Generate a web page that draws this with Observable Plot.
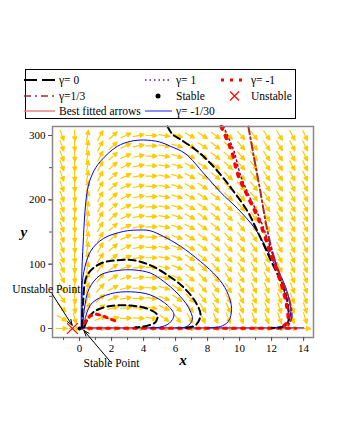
<!DOCTYPE html>
<html><head><meta charset="utf-8">
<script src="https://cdn.jsdelivr.net/npm/d3@7"></script>
<script src="https://cdn.jsdelivr.net/npm/@observablehq/plot@0.6"></script>
<style>
body{margin:0;background:#fff;}
#wrap{position:relative;width:340px;height:440px;overflow:hidden;}
#chart{position:absolute;left:0;top:0;}
#legend{position:absolute;left:0;top:0;}
</style></head><body>
<div id="wrap"><div id="chart"></div><svg id="legend" width="340" height="130"></svg></div>
<script>
// ---- grid of direction-field arrows (screen angle in degrees, 0 = right, + = up) ----
const fieldX = [-1.1,-0.3,0.5,1.3,2.1,2.9,3.7,4.5,5.3,6.1,6.9,7.7,8.5,9.3,10.1,10.9,11.7,12.5,13.3,14.1];
const fieldY = [300,284,268,253,237,221,205,189,174,158,142,126,110,95,79,63,47,32,16,0];
const fieldAngle = [
 [-70,-88,80,62,42,25,12,0,-10,-18,-27,-33,-38,-43,-48,-52,-56,-59,-62,-64],
 [-70,-88,80,62,42,25,12,0,-10,-18,-27,-33,-38,-43,-48,-52,-56,-59,-62,-64],
 [-70,-88,80,62,42,25,12,0,-10,-18,-27,-33,-38,-43,-48,-52,-56,-59,-62,-64],
 [-70,-88,80,62,42,25,12,0,-10,-18,-27,-33,-38,-43,-48,-52,-56,-59,-62,-64],
 [-70,-88,80,62,42,25,12,0,-10,-18,-27,-33,-38,-43,-48,-52,-56,-59,-62,-64],
 [-70,-88,80,62,42,25,12,0,-10,-18,-27,-33,-38,-43,-48,-52,-56,-59,-62,-64],
 [-70,-88,80,62,42,25,12,0,-10,-18,-27,-33,-38,-43,-48,-52,-56,-59,-62,-64],
 [-70,-88,80,62,42,25,12,0,-10,-18,-28,-34,-39,-44,-49,-53,-57,-60,-62,-64],
 [-70,-88,80,62,42,25,12,0,-10,-19,-28,-35,-40,-45,-50,-54,-57,-60,-63,-65],
 [-70,-88,80,61,41,24,11,0,-10,-19,-29,-35,-41,-46,-51,-55,-58,-61,-63,-65],
 [-70,-88,80,61,41,24,11,0,-10,-20,-30,-36,-42,-47,-52,-56,-59,-62,-64,-66],
 [-70,-88,80,60,40,24,11,0,-10,-20,-30,-36,-42,-47,-52,-56,-59,-62,-64,-66],
 [-68,-88,80,58,38,22,10,0,-11,-22,-32,-39,-45,-50,-55,-58,-61,-63,-65,-67],
 [-66,-88,78,56,35,20,8,-1,-12,-24,-35,-42,-48,-53,-57,-60,-63,-65,-67,-68],
 [-64,-87,77,52,32,17,6,-2,-14,-26,-38,-45,-51,-55,-59,-62,-64,-66,-68,-69],
 [-60,-86,75,48,28,14,4,-4,-16,-30,-42,-49,-54,-58,-61,-64,-66,-68,-69,-70],
 [-55,-85,72,42,22,10,2,-6,-20,-35,-47,-53,-58,-61,-64,-66,-68,-69,-70,-71],
 [-45,-82,65,35,16,6,0,-8,-25,-42,-53,-58,-62,-65,-67,-68,-70,-71,-72,-72],
 [-30,-75,50,22,8,2,-3,-12,-35,-52,-60,-64,-66,-68,-69,-70,-71,-72,-72,-73],
 [0,0,0,0,0,0,0,0,0,0,0,0,0,0,0,0,0,0,0,0]
];

// ---- trajectories [x, y] ----
const blueOuter = [[0.1,0],[0.12,60],[0.2,120],[0.48,213],[0.8,240],[1.31,260],[2.35,283],[3.2,291],[4.0,293],[5.0,290],[5.7,283],[6.6,272],[7.8,240],[8.8,212],[9.85,187],[11.0,154],[12.1,104],[12.7,75],[13.0,55],[13.2,26],[13.0,8],[12.6,3],[12.0,1]];
const blue2 = [[0.15,0],[0.17,40],[0.2,78],[0.69,120],[1.5,140],[2.77,151],[3.6,153],[4.4,152],[5.25,143],[6.3,128],[7.56,104],[8.6,80],[9.2,58],[9.5,31],[9.3,11],[8.8,3],[8.0,1]];
const blue3 = [[0.2,0],[0.3,30],[0.6,62],[1.3,83],[2.35,90],[3.4,91],[4.44,86],[5.27,73],[6.1,55],[6.8,33],[7.05,14],[6.7,3],[6.0,1]];
const blue4 = [[0.25,0],[0.4,20],[0.8,40],[1.94,54],[3.2,57],[4.44,52],[5.5,36],[5.9,21],[5.6,8],[5.0,2],[4.4,1]];
const blueBase = [[0,1],[14,1]];
const dashBig = [[5.5,314],[5.8,302],[6.3,294],[7.35,276],[8.4,251],[9.45,219],[10.5,182],[11.1,152],[11.9,109],[12.5,77],[12.8,60],[13.05,31],[13.0,8],[12.6,2],[12.0,1]];
const dash2 = [[0.15,2],[0.22,40],[0.48,83],[1.31,101],[2.35,106],[3.4,106],[4.44,98],[5.5,83],[6.5,64],[7.25,41],[7.56,21],[7.25,5],[6.6,1]];
const dash3 = [[0.3,2],[0.5,14],[0.9,26],[1.73,34],[3.0,36],[4.2,31],[4.86,21],[4.75,10],[4.2,4],[3.5,2]];
const redBig = [[8.85,314],[9.2,294],[9.5,276],[9.9,239],[10.5,206],[11.2,169],[11.9,120],[12.56,73],[12.95,35],[13.0,10],[12.6,2]];
const purpleBig = [[9.0,314],[9.35,294],[9.65,276],[10.05,239],[10.6,206],[11.3,169],[12.0,120],[12.62,73],[13.0,35],[13.05,10],[12.6,2]];
const brownBig = [[10.55,314],[10.9,266],[11.3,213],[11.7,157],[12.1,115],[12.6,78],[13.1,45],[13.25,17],[13.0,3]];
const redSmall = [[0.3,8],[0.6,18],[1.0,22],[1.5,19],[2.0,14],[2.2,12]];
const redBase = [[0,0.5],[13.5,0.5]];
const fitBase = [[0,0],[14,0]];

// ---- points and annotations ----
const unstablePts = [{x:-0.45, y:0}];
const stablePts = [{x:0, y:0}];
const notes = [
  {label:"Unstable Point", tx:-4.2, ty:61, x1:-1.72, y1:54, x2:-0.46, y2:5},
  {label:"Stable Point", tx:0.25, ty:-54, x1:1.94, y1:-52, x2:0.27, y2:-3}
];
const xTicks = [0,2,4,6,8,10,12,14];
const yTicks = [0,100,200,300];

const field = [];
fieldAngle.forEach((row, k) => row.forEach((a, i) => field.push({x: fieldX[i], y: fieldY[k], r: 90 - a})));

const arrowShape = {
  draw(ctx, l) {
    const h = 4.2, w = 2;
    ctx.moveTo(0, l / 2);
    ctx.lineTo(0, -l / 2 + h * 0.6);
    ctx.moveTo(-w, -l / 2 + h);
    ctx.lineTo(0, -l / 2);
    ctx.lineTo(w, -l / 2 + h);
    ctx.closePath();
  }
};
const gold = "#FFCC00";
const ln = (data, o) => Plot.line(data, {x: d => d[0], y: d => d[1], curve: "catmull-rom", ...o});

const chart = Plot.plot({
  width: 340, height: 440,
  marginLeft: 52, marginRight: 27, marginTop: 126, marginBottom: 103,
  x: {domain: [-1.69, 14.62]},
  y: {domain: [-14, 314]},
  style: {fontFamily: "'Liberation Serif', serif", fontSize: "11px", background: "transparent", color: "#000"},
  marks: [
    Plot.vector(field, {x: "x", y: "y", rotate: "r", length: 11, anchor: "start", shape: arrowShape, stroke: gold, fill: gold, strokeWidth: 1.2}),
    ln(fitBase, {stroke: "#F08080", strokeWidth: 1.5}),
    ln(blueBase, {stroke: "#6666CC", strokeWidth: 1.5}),
    ln(redBase, {stroke: "#FF0000", strokeWidth: 3, strokeDasharray: "3,6"}),
    ln(blueOuter, {stroke: "#0000FF", strokeWidth: 1}),
    ln(blue2, {stroke: "#0000FF", strokeWidth: 1}),
    ln(blue3, {stroke: "#0000FF", strokeWidth: 1}),
    ln(blue4, {stroke: "#0000FF", strokeWidth: 1}),
    ln(dashBig, {stroke: "#000", strokeWidth: 2, strokeDasharray: "7,4"}),
    ln(dash2, {stroke: "#000", strokeWidth: 2, strokeDasharray: "7,4"}),
    ln(dash3, {stroke: "#000", strokeWidth: 2, strokeDasharray: "7,4"}),
    ln(brownBig, {stroke: "#A52A2A", strokeWidth: 2, strokeDasharray: "8,3,2,3"}),
    ln(purpleBig, {stroke: "#800080", strokeWidth: 1.5, strokeDasharray: "1.5,3"}),
    ln(redBig, {stroke: "#FF0000", strokeWidth: 3.5, strokeDasharray: "3,7"}),
    ln(redSmall, {stroke: "#FF0000", strokeWidth: 3, strokeDasharray: "3,5"}),
    Plot.dot(stablePts, {x: "x", y: "y", r: 2, fill: "#000"}),
    Plot.dot(unstablePts, {x: "x", y: "y", r: 5, symbol: "times", stroke: "#FF0000", strokeWidth: 1.2}),
    Plot.frame({stroke: "#888", strokeWidth: 1.5}),
    Plot.axisX(d3.range(-1, 15), {tickSize: 3, tickFormat: () => "", stroke: "#555"}),
    Plot.axisX(xTicks, {tickSize: 4, tickPadding: 3, stroke: "#555", fontSize: 11}),
    Plot.axisY(d3.range(0, 301, 50), {tickSize: 3, tickFormat: () => "", stroke: "#555"}),
    Plot.axisY(yTicks, {tickSize: 4, tickPadding: 3, stroke: "#555", fontSize: 11}),
    Plot.arrow(notes, {x1: "x1", y1: "y1", x2: "x2", y2: "y2", stroke: "#000", strokeWidth: 1, headLength: 9, headAngle: 40}),
    Plot.text(notes, {x: "tx", y: "ty", text: "label", textAnchor: "start", fontSize: 11.5}),
    Plot.text(["x"], {frameAnchor: "bottom", dy: 27, fontSize: 15, fontWeight: "bold", fontStyle: "italic"}),
    Plot.text(["y"], {frameAnchor: "left", dx: -32, fontSize: 15, fontWeight: "bold", fontStyle: "italic"})
  ]
});
document.getElementById("chart").append(chart);

// ---- legend ----
const legendItems = [
  {label: "γ= 0", col: 0, row: 0, kind: "dash"},
  {label: "γ= 1", col: 1, row: 0, kind: "purple"},
  {label: "γ= -1", col: 2, row: 0, kind: "redsq"},
  {label: "γ=1/3", col: 0, row: 1, kind: "dashdot"},
  {label: "Stable", col: 1, row: 1, kind: "dot"},
  {label: "Unstable", col: 2, row: 1, kind: "cross"},
  {label: "Best fitted arrows", col: 0, row: 2, kind: "salmon"},
  {label: "γ= -1/30", col: 1, row: 2, kind: "blue"}
];
const lg = d3.select("#legend");
lg.append("rect").attr("x", 25.5).attr("y", 69.5).attr("width", 270).attr("height", 49).attr("fill", "none").attr("stroke", "#000");
const colSw = [[24, 55, 59], [145, 172, 176], [221, 247, 251]];
const rowY = [80, 96, 111];
legendItems.forEach(d => {
  const [a, b, t] = colSw[d.col];
  const y = rowY[d.row];
  const line = (st) => { const l = lg.append("line").attr("x1", a).attr("x2", b).attr("y1", y).attr("y2", y); Object.entries(st).forEach(([k, v]) => l.attr(k, v)); };
  if (d.kind === "dash") line({stroke: "#000", "stroke-width": 2, "stroke-dasharray": "13,5"});
  if (d.kind === "purple") line({stroke: "#800080", "stroke-width": 1.5, "stroke-dasharray": "1.5,3"});
  if (d.kind === "redsq") line({stroke: "#FF0000", "stroke-width": 3, "stroke-dasharray": "3,6"});
  if (d.kind === "dashdot") line({stroke: "#A52A2A", "stroke-width": 1.5, "stroke-dasharray": "7,4,2,4"});
  if (d.kind === "salmon") line({stroke: "#F08080", "stroke-width": 1.5});
  if (d.kind === "blue") line({stroke: "#6666FF", "stroke-width": 1.5});
  if (d.kind === "dot") lg.append("circle").attr("cx", 158).attr("cy", y).attr("r", 2.5).attr("fill", "#000");
  if (d.kind === "cross") lg.append("path").attr("d", `M230,${y-4.5}L239,${y+4.5}M239,${y-4.5}L230,${y+4.5}`).attr("stroke", "#FF0000").attr("stroke-width", 1.2);
  lg.append("text").attr("x", t).attr("y", y + 4).attr("font-family", "'Liberation Serif', serif").attr("font-size", 11.5).text(d.label);
});
</script>
</body></html>
